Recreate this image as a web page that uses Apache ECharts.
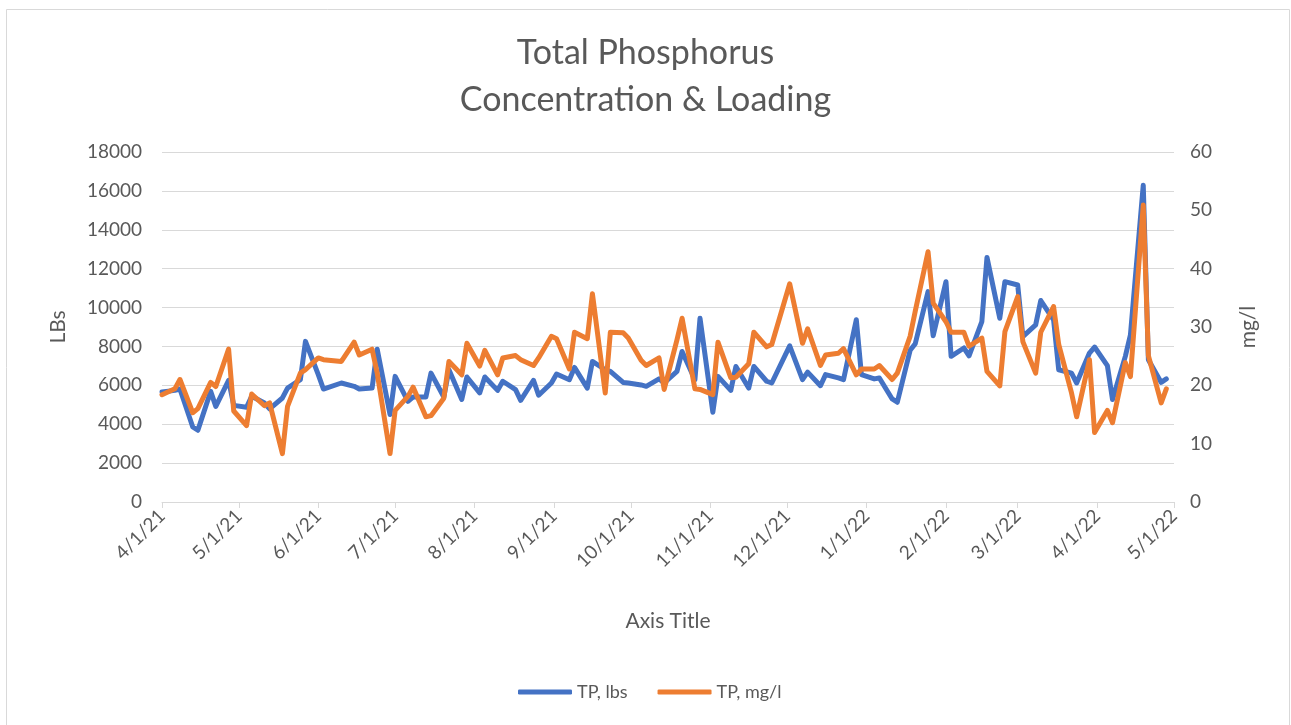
<!DOCTYPE html>
<html><head><meta charset="utf-8">
<script src="https://cdn.jsdelivr.net/npm/echarts@6/dist/echarts.min.js"></script>
<style>html,body{margin:0;padding:0;background:#fff}#c{width:1291px;height:725px}</style>
</head><body><div id="c"></div>
<script>
const dates = [
'2021-04-01','2021-04-06','2021-04-08','2021-04-13','2021-04-15','2021-04-20','2021-04-22','2021-04-27','2021-04-29',
'2021-05-04','2021-05-06','2021-05-11','2021-05-13','2021-05-18','2021-05-20','2021-05-25','2021-05-27',
'2021-06-01','2021-06-03','2021-06-10','2021-06-15','2021-06-17','2021-06-22','2021-06-24','2021-06-29',
'2021-07-01','2021-07-06','2021-07-08','2021-07-13','2021-07-15','2021-07-20','2021-07-22','2021-07-27','2021-07-29',
'2021-08-03','2021-08-05','2021-08-10','2021-08-12','2021-08-17','2021-08-19','2021-08-24','2021-08-26','2021-08-31',
'2021-09-02','2021-09-07','2021-09-09','2021-09-14','2021-09-16','2021-09-21','2021-09-23','2021-09-28','2021-09-30',
'2021-10-05','2021-10-07','2021-10-12','2021-10-14','2021-10-19','2021-10-21','2021-10-26','2021-10-28',
'2021-11-02','2021-11-04','2021-11-09','2021-11-11','2021-11-16','2021-11-18','2021-11-23','2021-11-25',
'2021-12-02','2021-12-07','2021-12-09','2021-12-14','2021-12-16','2021-12-21','2021-12-23','2021-12-28','2021-12-30',
'2022-01-04','2022-01-06','2022-01-11','2022-01-13','2022-01-18','2022-01-20','2022-01-25','2022-01-27',
'2022-02-01','2022-02-03','2022-02-08','2022-02-10','2022-02-15','2022-02-17','2022-02-22','2022-02-24',
'2022-03-01','2022-03-03','2022-03-08','2022-03-10','2022-03-15','2022-03-17','2022-03-22','2022-03-24','2022-03-29','2022-03-31',
'2022-04-05','2022-04-07','2022-04-12','2022-04-14','2022-04-19','2022-04-21','2022-04-26','2022-04-28'
];
const tpLbs = [
5660,5740,5810,3860,3690,5690,4920,6260,4970,
4870,5440,5090,4790,5350,5860,6290,8260,
6550,5810,6120,5950,5810,5860,7860,4500,
6460,5180,5400,5400,6630,5400,6800,5270,6430,
5610,6430,5740,6210,5780,5230,6260,5490,6120,
6580,6290,6920,5860,7230,6800,6720,6150,6120,
6020,5950,6330,6120,6720,7740,6290,9450,
4620,6460,5740,6970,5860,6970,6210,6120,
8030,6290,6680,5980,6550,6380,6290,9370,6550,
6330,6380,5300,5130,7800,8140,10820,8550,
11330,7490,7920,7520,9280,12580,9450,11330,
11160,8510,9110,10360,9370,6800,6630,6120,7660,7970,
7010,5270,7490,8600,16290,7320,6150,6330
];
const tpMgl = [
18.4,19.4,21.0,15.3,16.0,20.5,19.8,26.2,15.6,
13.1,18.5,16.5,17.0,8.3,16.4,22.1,22.7,
24.7,24.4,24.1,27.4,25.2,26.2,22.1,8.3,
15.7,18.1,19.7,14.6,14.8,17.8,24.1,21.8,27.2,
23.3,26.0,21.8,24.7,25.1,24.4,23.4,24.7,28.4,
28.0,22.8,29.1,28.0,35.7,18.7,29.1,29.0,28.1,
24.3,23.4,24.7,19.3,27.8,31.5,19.4,19.3,
18.4,27.4,21.3,21.4,23.7,29.1,26.6,27.0,
37.4,27.2,29.7,23.4,25.2,25.5,26.3,21.8,22.8,
22.8,23.4,21.0,22.1,28.4,32.7,42.9,34.1,
30.9,29.1,29.1,26.7,28.1,22.4,19.9,29.2,
35.2,27.5,22.1,29.1,33.5,27.0,18.7,14.6,24.4,11.9,
15.7,13.6,23.9,21.5,50.9,25.1,17.0,19.4
];
const monthTicks = ['2021-04-01','2021-05-01','2021-06-01','2021-07-01','2021-08-01','2021-09-01','2021-10-01',
'2021-11-01','2021-12-01','2022-01-01','2022-02-01','2022-03-01','2022-04-01','2022-05-01'];
const seriesNames = ['TP, lbs','TP, mg/l'];

function toTs(s){const p=s.split('-');return new Date(+p[0],+p[1]-1,+p[2]).getTime();}
function fmt(v){const d=new Date(v);return (d.getMonth()+1)+'/'+d.getDate()+'/'+String(d.getFullYear()).slice(2);}

const FONT='Lato';
const TXT='#595959';
const chart = echarts.init(document.getElementById('c'), null, {renderer:'canvas'});
const tickVals = monthTicks.map(toTs);
chart.setOption({
  backgroundColor:'#fff',
  animation:false,
  textStyle:{fontFamily:FONT},
  graphic:[{type:'rect',left:4,top:7,shape:{width:1283,height:716},style:{fill:'none',stroke:'#d9d9d9',lineWidth:1},silent:true}],
  title:{text:'Total Phosphorus\nConcentration & Loading',left:'center',top:25,
    textStyle:{fontFamily:FONT,fontSize:34,fontWeight:'normal',color:TXT,lineHeight:47}},
  grid:{left:162,right:117,top:152,bottom:223,containLabel:false},
  legend:{data:seriesNames,left:513,top:678,icon:'roundRect',itemWidth:54,itemHeight:5,itemGap:30,
    textStyle:{fontFamily:FONT,fontSize:18,color:TXT}},
  xAxis:{type:'value',min:tickVals[0],max:tickVals[tickVals.length-1],scale:true,
    name:'Axis Title',nameLocation:'middle',nameGap:109,
    nameTextStyle:{fontFamily:FONT,fontSize:21,color:TXT},
    axisLine:{show:true,onZero:false,lineStyle:{color:'#d9d9d9',width:1}},
    axisTick:{show:true,length:6,customValues:tickVals,lineStyle:{color:'#d9d9d9'}},
    axisLabel:{customValues:tickVals,rotate:45,margin:11,fontFamily:FONT,fontSize:19,color:TXT,formatter:fmt},
    splitLine:{show:false}},
  yAxis:[
    {type:'value',min:0,max:18000,interval:2000,name:'LBs',nameLocation:'middle',nameGap:93,
     nameTextStyle:{fontFamily:FONT,fontSize:21,color:TXT},
     axisLine:{show:false},axisTick:{show:false},
     axisLabel:{fontFamily:FONT,fontSize:19,color:TXT,margin:20,formatter:v=>String(v)},
     splitLine:{lineStyle:{color:'#d9d9d9',width:1}}},
    {type:'value',min:0,max:60,interval:10,name:'mg/l',nameLocation:'middle',nameGap:64,
     nameTextStyle:{fontFamily:FONT,fontSize:21,color:TXT},
     axisLine:{show:false},axisTick:{show:false},
     axisLabel:{fontFamily:FONT,fontSize:19,color:TXT,margin:16,formatter:v=>String(v)},
     splitLine:{show:false}}
  ],
  series:[
    {name:seriesNames[0],type:'line',yAxisIndex:0,showSymbol:false,symbol:'none',
     lineStyle:{color:'#4472C4',width:5,join:'round',cap:'round'},itemStyle:{color:'#4472C4'},
     data:dates.map((d,i)=>[toTs(d),tpLbs[i]])},
    {name:seriesNames[1],type:'line',yAxisIndex:1,showSymbol:false,symbol:'none',
     lineStyle:{color:'#ED7D31',width:5,join:'round',cap:'round'},itemStyle:{color:'#ED7D31'},
     data:dates.map((d,i)=>[toTs(d),tpMgl[i]])}
  ]
});
</script></body></html>
